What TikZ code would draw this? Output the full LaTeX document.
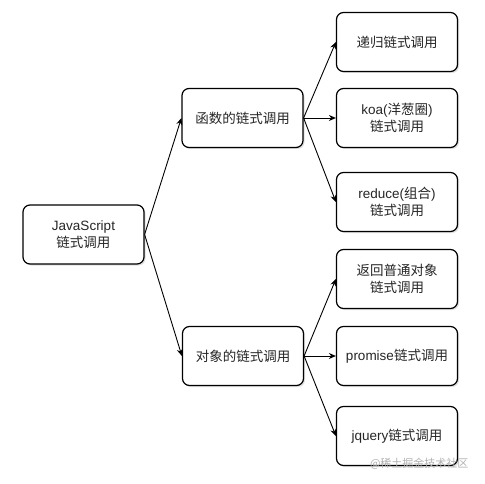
\documentclass[tikz,border=0pt]{standalone}
\usepackage{fontspec}
\setmainfont{Noto Sans CJK SC}
\newfontfamily\lat{Liberation Sans}
\usetikzlibrary{arrows.meta,shadows}
\begin{document}
\begin{tikzpicture}[x=1pt,y=-1pt,
  box/.style={draw=black, line width=1.2pt, rounded corners=7pt, fill=white,
    minimum width=121pt, minimum height=59pt, inner sep=2pt, align=center,
    text=black!85, font=\fontsize{13.5}{17}\selectfont,
    drop shadow={shadow xshift=1.5pt, shadow yshift=-1.5pt, opacity=0.25}},
  conn/.style={draw=black, line width=0.9pt, -{Stealth[length=7pt,width=6pt]}},
  wmark/.style={text=black!30, font=\fontsize{11}{13}\selectfont}]
\useasboundingbox (0,0) rectangle (485,484);
\fill[white] (0,0) rectangle (485,484);
\node[box] (js) at (83.5,234.5) {{\lat JavaScript}\\链式调用};
\node[box] (fn) at (242.5,118) {函数的链式调用};
\node[box] (obj) at (243,356) {对象的链式调用};
\node[box] (rec) at (397,42) {递归链式调用};
\node[box] (koa) at (397,118) {{\lat koa(}洋葱圈{\lat )}\\链式调用};
\node[box] (red) at (397,202) {{\lat reduce(}组合{\lat )}\\链式调用};
\node[box] (ret) at (397,279) {返回普通对象\\链式调用};
\node[box] (pro) at (397,356) {{\lat promise}链式调用};
\node[box] (jq) at (397,436) {{\lat jquery}链式调用};
\draw[conn] (js.east) -- (fn.west);
\draw[conn] (js.east) -- (obj.west);
\draw[conn] (fn.east) -- (rec.west);
\draw[conn] (fn.east) -- (koa.west);
\draw[conn] (fn.east) -- (red.west);
\draw[conn] (obj.east) -- (ret.west);
\draw[conn] (obj.east) -- (pro.west);
\draw[conn] (obj.east) -- (jq.west);
\node[wmark, anchor=east] (wm) at (472,464) {@稀土掘金技术社区};
\end{tikzpicture}
\end{document}
